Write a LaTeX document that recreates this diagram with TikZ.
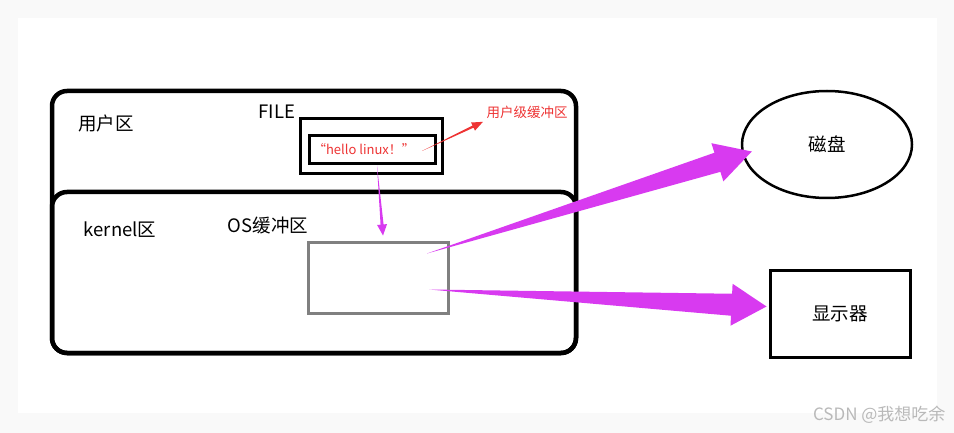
\documentclass[tikz,border=0pt]{standalone}
\usepackage{fontspec}
\setmainfont{Noto Sans CJK SC}
\usetikzlibrary{calc,shapes.geometric}
\definecolor{purp}{RGB}{216,58,240}
\definecolor{redtxt}{RGB}{238,52,52}

% tapered arrow: from, to, head length, shaft half width, head half width, colour
\newcommand\taper[6]{%
  \coordinate (hb) at ($(#2)!#3pt!(#1)$);
  \fill[#6] (#1) -- ($(hb)!#4pt!90:(#2)$) -- ($(hb)!#5pt!90:(#2)$) -- (#2)
    -- ($(hb)!#5pt!-90:(#2)$) -- ($(hb)!#4pt!-90:(#2)$) -- cycle;}

\begin{document}
\begin{tikzpicture}[x=1pt, y=-1pt,
    box/.style={draw, line width=3pt, inner sep=0pt},
    lbl/.style={font=\fontsize{18.5}{21}\selectfont},
    small/.style={font=\fontsize{13}{15}\selectfont, text=redtxt}]
  % page
  \fill[gray!5] (0,0) rectangle (954,433);
  \fill[white] (18,18) rectangle (937,413);
  \useasboundingbox (0,0) rectangle (954,433);

  % user and kernel regions
  \draw[line width=4.5pt, rounded corners=15pt] (52,91) rectangle (576,353);
  \draw[line width=4.5pt, rounded corners=15pt] (52,192) rectangle (576,353);
  \node[lbl] (user) at (106,123) {用户区};
  \node[lbl] (kernel) at (120,230) {kernel区};
  \node[lbl] (oslbl) at (268,226) {OS缓冲区};
  \node[lbl] (filelbl) at (277,112) {FILE};

  % FILE buffer
  \node[box, minimum width=142pt, minimum height=55pt] (file) at (371,146.5) {};
  \node[box, minimum width=126pt, minimum height=28pt] (hello) at (372,150) {};
  \node[small] (hellotxt) at (364,149) {“hello linux！”};
  \node[small, font=\fontsize{13.5}{15}\selectfont] (usrbuf) at (527,112) {用户级缓冲区};

  % OS buffer
  \node[box, draw=gray, minimum width=140pt, minimum height=71pt] (osbuf) at (378,277.5) {};

  % devices
  \node[draw, ellipse, line width=2.5pt, minimum width=170pt, minimum height=107pt,
        lbl] (disk) at (827,144.5) {磁盘};
  \node[box, minimum width=140pt, minimum height=87pt, lbl] (display) at (840,313.5) {显示器};

  % arrows
  \coordinate (redtail) at (422,151);
  \taper{redtail}{usrbuf.south west}{11}{1.2}{4.5}{redtxt}
  \coordinate (downtail) at ($(hello.south)+(5,0)$);
  \taper{downtail}{$(osbuf.north)+(5,-5)$}{11}{1.5}{5}{purp}
  \coordinate (disktail) at ($(osbuf.center)+(49,-24)$);
  \coordinate (disktip) at ($(disk.west)+(11,7)$);
  \taper{disktail}{disktip}{36}{10}{20}{purp}
  \coordinate (disptail) at ($(osbuf.center)+(51,12)$);
  \coordinate (disptip) at ($(display.west)+(-2,-7)$);
  \taper{disptail}{disptip}{35}{11}{21}{purp}

  % watermark
  \node[anchor=east, text=gray!55, font=\fontsize{17}{19}\selectfont] (mark) at (949,415) {CSDN @我想吃余};
\end{tikzpicture}
\end{document}
